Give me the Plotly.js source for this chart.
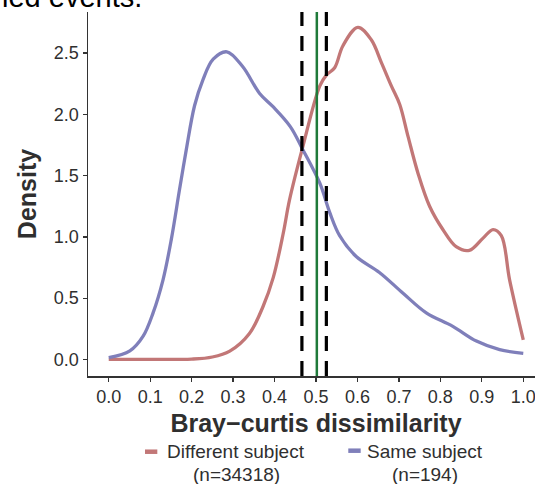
<!DOCTYPE html>
<html>
<head>
<meta charset="utf-8">
<script src="https://cdn.plot.ly/plotly-3.0.1.min.js"></script>
<style>html,body{margin:0;padding:0;background:#fff;overflow:hidden;} #chart{width:545px;height:484px;}</style>
</head>
<body>
<div id="chart"></div>
<script>
// Same subject density curve
const sameX = [0, 0.051, 0.083, 0.107, 0.131, 0.151, 0.171, 0.187, 0.207, 0.227, 0.252, 0.285, 0.323, 0.364, 0.397, 0.438, 0.467, 0.509, 0.533, 0.557, 0.597, 0.653, 0.710, 0.766, 0.830, 0.887, 0.943, 1.0];
const sameY = [0.014, 0.07, 0.19, 0.38, 0.65, 0.98, 1.39, 1.71, 2.07, 2.28, 2.45, 2.51, 2.39, 2.17, 2.06, 1.90, 1.72, 1.44, 1.20, 1.01, 0.84, 0.71, 0.54, 0.38, 0.27, 0.15, 0.08, 0.05];
// Different subject density curve
const diffX = [0, 0.1, 0.2, 0.25, 0.292, 0.339, 0.372, 0.397, 0.421, 0.436, 0.467, 0.509, 0.525, 0.545, 0.565, 0.601, 0.633, 0.658, 0.682, 0.702, 0.722, 0.746, 0.774, 0.806, 0.838, 0.870, 0.903, 0.927, 0.947, 0.967, 1.0];
const diffY = [0.0, 0.0, 0.003, 0.02, 0.068, 0.21, 0.43, 0.67, 1.03, 1.30, 1.72, 2.23, 2.32, 2.38, 2.56, 2.71, 2.61, 2.42, 2.23, 2.08, 1.82, 1.52, 1.25, 1.06, 0.92, 0.89, 0.99, 1.06, 1.01, 0.65, 0.16];
// Threshold lines
const dashedX = [0.466, 0.525];
const solidX = [0.502];
// Labels
const seriesNames = ["Different subject", "Same subject"];
const seriesCounts = ["(n=34318)", "(n=194)"];
const xTicks = [0, 0.1, 0.2, 0.3, 0.4, 0.5, 0.6, 0.7, 0.8, 0.9, 1.0];
const xTickText = ["0.0","0.1","0.2","0.3","0.4","0.5","0.6","0.7","0.8","0.9","1.0"];
const yTicks = [0, 0.5, 1.0, 1.5, 2.0, 2.5];
const yTickText = ["0.0","0.5","1.0","1.5","2.0","2.5"];

const RED = "#c27777";
const BLUE = "#7f7fba";
const GREEN = "#1f7a3a";
const FONT = "Liberation Sans, Arial, sans-serif";
const TXT = "#2f2f2f";

const traces = [
  {x: diffX, y: diffY, mode: "lines", name: seriesNames[0],
   line: {color: RED, width: 3.3, shape: "spline", smoothing: 1}, hoverinfo: "skip"},
  {x: sameX, y: sameY, mode: "lines", name: seriesNames[1],
   line: {color: BLUE, width: 3.3, shape: "spline", smoothing: 1}, hoverinfo: "skip"}
];

const shapes = [];
dashedX.forEach(v => shapes.push({type: "line", xref: "x", yref: "paper", x0: v, x1: v, y0: 0, y1: 1,
  line: {color: "#000", width: 3.2, dash: "15px,10px"}, layer: "above"}));
solidX.forEach(v => shapes.push({type: "line", xref: "x", yref: "paper", x0: v, x1: v, y0: 0, y1: 1,
  line: {color: GREEN, width: 2.5}, layer: "above"}));
// legend keys
const keyX = [[0.125, 0.152], [0.5708, 0.598]];
const keyY = [-0.208, -0.2052];
const keyCol = [RED, BLUE];
keyX.forEach((k, i) => shapes.push({type: "line", xref: "paper", yref: "paper", x0: k[0], x1: k[1], y0: keyY[i], y1: keyY[i],
  line: {color: keyCol[i], width: 4.5}}));

const legX = [0.3252, 0.7395];
const annotations = [];
seriesNames.forEach((n, i) => {
  annotations.push({xref: "paper", yref: "paper", x: legX[i], y: -0.208, xanchor: "center", yanchor: "middle",
    text: n, showarrow: false, font: {family: FONT, size: 19, color: TXT}});
  annotations.push({xref: "paper", yref: "paper", x: legX[i], y: -0.2706, xanchor: "center", yanchor: "middle",
    text: seriesCounts[i], showarrow: false, font: {family: FONT, size: 19, color: TXT}});
});
annotations.push({xref: "paper", yref: "paper", x: -0.193, y: 0.991, xanchor: "left", yanchor: "bottom",
  text: "ied events.", showarrow: false, font: {family: FONT, size: 29, color: "#000"}});

const layout = {
  width: 545, height: 484,
  margin: {l: 88, r: 1, t: 12, b: 108, pad: 0},
  paper_bgcolor: "#fff", plot_bgcolor: "#fff",
  showlegend: false,
  font: {family: FONT, color: TXT},
  xaxis: {
    range: [-0.05, 1.05], tickvals: xTicks, ticktext: xTickText,
    showline: true, linecolor: "#333", linewidth: 1.5, mirror: false,
    ticks: "outside", ticklen: 4, tickwidth: 1.2, tickcolor: "#333",
    showgrid: false, zeroline: false,
    tickfont: {family: FONT, size: 18, color: TXT},
    title: {text: "<b>Bray−curtis dissimilarity</b>", font: {family: FONT, size: 25, color: TXT}, standoff: 8}
  },
  yaxis: {
    range: [-0.135, 2.835], tickvals: yTicks, ticktext: yTickText,
    showline: true, linecolor: "#333", linewidth: 1.5,
    ticks: "outside", ticklen: 4, tickwidth: 1.2, tickcolor: "#333",
    showgrid: false, zeroline: false,
    tickfont: {family: FONT, size: 18, color: TXT},
    title: {text: "<b>Density</b>", font: {family: FONT, size: 25, color: TXT}, standoff: 10}
  },
  shapes: shapes,
  annotations: annotations
};

Plotly.newPlot("chart", traces, layout, {staticPlot: true, displayModeBar: false});
</script>
</body>
</html>
